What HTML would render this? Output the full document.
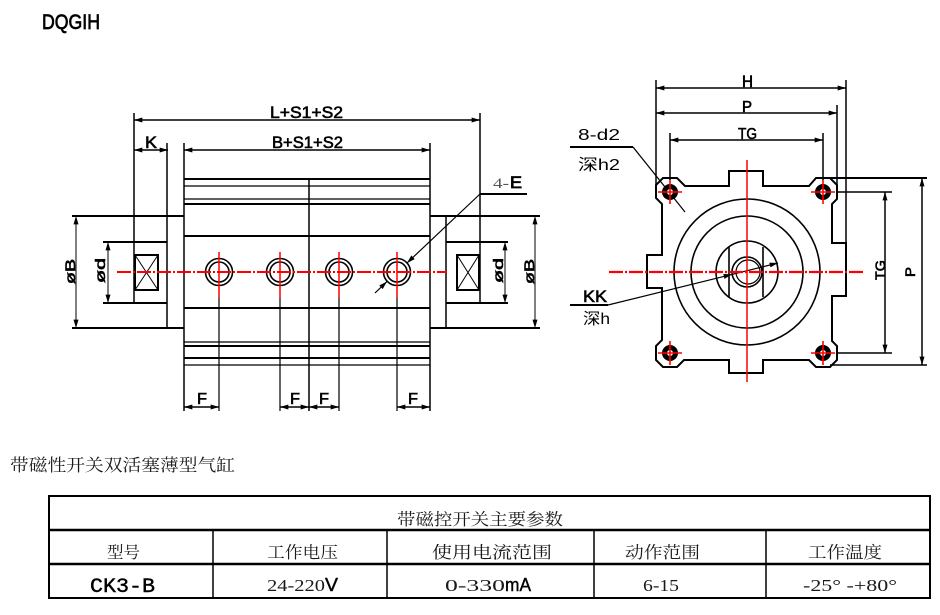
<!DOCTYPE html>
<html><head><meta charset="utf-8"><style>
html,body{margin:0;padding:0;background:#fff;}
svg{display:block;}
.cad{font-family:"Liberation Sans",sans-serif;fill:#000;}
.cjk{font-family:"Liberation Serif","Noto Serif CJK SC",serif;fill:#1a1a1a;}
</style></head><body>
<svg width="940" height="615" viewBox="0 0 940 615" xmlns="http://www.w3.org/2000/svg">
<defs>
<marker id="ar" viewBox="0 0 10 6" refX="10" refY="3" markerWidth="9" markerHeight="5" markerUnits="userSpaceOnUse" orient="auto-start-reverse">
<path d="M0,0 L10,3 L0,6 z" fill="#000"/>
</marker>
</defs>

<!-- Title -->
<text class="cad" x="42" y="29" font-size="21" textLength="58" lengthAdjust="spacingAndGlyphs" stroke="#000" stroke-width="0.7">DQGIH</text>

<!-- ========== LEFT VIEW ========== -->
<g stroke="#000" fill="none">
<line x1="134" y1="120" x2="480" y2="120" stroke-width="1.5" marker-start="url(#ar)" marker-end="url(#ar)"/>
<line x1="134" y1="113" x2="134" y2="303" stroke-width="1.5"/>
<line x1="480" y1="113" x2="480" y2="303" stroke-width="1.5"/>
<line x1="134" y1="150" x2="168" y2="150" stroke-width="1.5" marker-start="url(#ar)" marker-end="url(#ar)"/>
<line x1="167" y1="143" x2="167" y2="328" stroke-width="1.5"/>
<line x1="184" y1="150" x2="430" y2="150" stroke-width="1.5" marker-start="url(#ar)" marker-end="url(#ar)"/>
<line x1="184" y1="143" x2="184" y2="411" stroke-width="1.5"/>
<line x1="430" y1="143" x2="430" y2="411" stroke-width="1.5"/>
<line x1="309" y1="179" x2="309" y2="411" stroke-width="1.5"/>
<line x1="184" y1="179" x2="430" y2="179" stroke-width="2"/>
<line x1="184" y1="186" x2="430" y2="186" stroke-width="1.2"/>
<line x1="184" y1="199" x2="430" y2="199" stroke-width="1.2"/>
<line x1="184" y1="204" x2="430" y2="204" stroke-width="2"/>
<line x1="184" y1="236" x2="430" y2="236" stroke-width="2"/>
<line x1="184" y1="308" x2="430" y2="308" stroke-width="2"/>
<line x1="184" y1="342" x2="430" y2="342" stroke-width="1.2"/>
<line x1="184" y1="346" x2="430" y2="346" stroke-width="2"/>
<line x1="184" y1="358" x2="430" y2="358" stroke-width="2"/>
<line x1="184" y1="365" x2="430" y2="365" stroke-width="1.2"/>
<line x1="72" y1="216" x2="184" y2="216" stroke-width="2"/>
<line x1="72" y1="328" x2="184" y2="328" stroke-width="2"/>
<line x1="103" y1="242" x2="167" y2="242" stroke-width="2"/>
<line x1="103" y1="303" x2="167" y2="303" stroke-width="2"/>
<rect x="135" y="255" width="23" height="35" stroke-width="2"/>
<line x1="135" y1="255" x2="158" y2="290" stroke-width="1"/>
<line x1="158" y1="255" x2="135" y2="290" stroke-width="1"/>
<line x1="76" y1="216" x2="76" y2="328" stroke-width="1" marker-start="url(#ar)" marker-end="url(#ar)"/>
<line x1="108" y1="242" x2="108" y2="303" stroke-width="1" marker-start="url(#ar)" marker-end="url(#ar)"/>
<line x1="430" y1="216" x2="540" y2="216" stroke-width="2"/>
<line x1="430" y1="328" x2="540" y2="328" stroke-width="2"/>
<line x1="446" y1="216" x2="446" y2="328" stroke-width="1.5"/>
<line x1="446" y1="242" x2="508" y2="242" stroke-width="2"/>
<line x1="446" y1="303" x2="508" y2="303" stroke-width="2"/>
<rect x="457" y="255" width="22" height="35" stroke-width="2"/>
<line x1="457" y1="255" x2="479" y2="290" stroke-width="1"/>
<line x1="479" y1="255" x2="457" y2="290" stroke-width="1"/>
<line x1="505" y1="242" x2="505" y2="303" stroke-width="1" marker-start="url(#ar)" marker-end="url(#ar)"/>
<line x1="535" y1="216" x2="535" y2="328" stroke-width="1" marker-start="url(#ar)" marker-end="url(#ar)"/>
<circle cx="219" cy="272" r="13.5" stroke-width="1.6"/><circle cx="219" cy="272" r="10" stroke-width="1.6"/>
<circle cx="280" cy="272" r="13.5" stroke-width="1.6"/><circle cx="280" cy="272" r="10" stroke-width="1.6"/>
<circle cx="339" cy="272" r="13.5" stroke-width="1.6"/><circle cx="339" cy="272" r="10" stroke-width="1.6"/>
<circle cx="397" cy="272" r="13.5" stroke-width="1.6"/><circle cx="397" cy="272" r="10" stroke-width="1.6"/>
<line x1="219" y1="298" x2="219" y2="411" stroke-width="1.2"/>
<line x1="280" y1="298" x2="280" y2="411" stroke-width="1.2"/>
<line x1="339" y1="298" x2="339" y2="411" stroke-width="1.2"/>
<line x1="397" y1="298" x2="397" y2="411" stroke-width="1.2"/>
<line x1="184" y1="407" x2="219" y2="407" stroke-width="1.5" marker-start="url(#ar)" marker-end="url(#ar)"/>
<line x1="280" y1="407" x2="309" y2="407" stroke-width="1.5" marker-start="url(#ar)" marker-end="url(#ar)"/>
<line x1="309" y1="407" x2="339" y2="407" stroke-width="1.5" marker-start="url(#ar)" marker-end="url(#ar)"/>
<line x1="397" y1="407" x2="430" y2="407" stroke-width="1.5" marker-start="url(#ar)" marker-end="url(#ar)"/>
<line x1="480" y1="194" x2="527" y2="194" stroke-width="2"/>
<line x1="480" y1="194" x2="407" y2="263" stroke-width="1.2" marker-end="url(#ar)"/>
<line x1="375" y1="293" x2="387" y2="281.5" stroke-width="1.2" marker-end="url(#ar)"/>
</g>
<g stroke="#f00" fill="none">
<line x1="117" y1="272" x2="447" y2="272" stroke-width="2" stroke-dasharray="14 2 2 2"/>
<line x1="219" y1="252" x2="219" y2="298" stroke-width="1.5"/>
<line x1="280" y1="252" x2="280" y2="298" stroke-width="1.5"/>
<line x1="339" y1="252" x2="339" y2="298" stroke-width="1.5"/>
<line x1="397" y1="252" x2="397" y2="298" stroke-width="1.5"/>
</g>
<g class="cad" stroke="#000" stroke-width="0.6">
<text x="270" y="118" font-size="16.5" textLength="73" lengthAdjust="spacingAndGlyphs">L+S1+S2</text>
<text x="145" y="148" font-size="16.5" textLength="12" lengthAdjust="spacingAndGlyphs">K</text>
<text x="272" y="148" font-size="16.5" textLength="71" lengthAdjust="spacingAndGlyphs">B+S1+S2</text>
<text x="197" y="404" font-size="16" textLength="10" lengthAdjust="spacingAndGlyphs">F</text>
<text x="290" y="404" font-size="16" textLength="10" lengthAdjust="spacingAndGlyphs">F</text>
<text x="319" y="404" font-size="16" textLength="10" lengthAdjust="spacingAndGlyphs">F</text>
<text x="408" y="404" font-size="16" textLength="10" lengthAdjust="spacingAndGlyphs">F</text>
<text transform="translate(75,284) rotate(-90)" font-size="14" textLength="25" lengthAdjust="spacingAndGlyphs">øB</text>
<text transform="translate(105,283) rotate(-90)" font-size="14" textLength="25" lengthAdjust="spacingAndGlyphs">ød</text>
<text transform="translate(503,283) rotate(-90)" font-size="14" textLength="25" lengthAdjust="spacingAndGlyphs">ød</text>
<text transform="translate(534,284) rotate(-90)" font-size="14" textLength="25" lengthAdjust="spacingAndGlyphs">øB</text>
</g>
<text x="493" y="188" font-family="Liberation Serif,serif" font-size="15" fill="#555" textLength="16" lengthAdjust="spacingAndGlyphs">4-</text>
<text x="510" y="188" font-family="Liberation Sans,sans-serif" font-size="16.5" fill="#000" stroke="#000" stroke-width="0.8" textLength="12" lengthAdjust="spacingAndGlyphs">E</text>

<!-- ========== RIGHT VIEW ========== -->
<g stroke="#000" fill="none">
<line x1="656" y1="88" x2="846" y2="88" stroke-width="1.5" marker-start="url(#ar)" marker-end="url(#ar)"/>
<line x1="656" y1="80" x2="656" y2="186" stroke-width="1.5"/>
<line x1="846" y1="80" x2="846" y2="243" stroke-width="1.5"/>
<line x1="656" y1="113" x2="837" y2="113" stroke-width="1.5" marker-start="url(#ar)" marker-end="url(#ar)"/>
<line x1="837" y1="105" x2="837" y2="185" stroke-width="1.5"/>
<line x1="670" y1="140" x2="823" y2="140" stroke-width="1.5" marker-start="url(#ar)" marker-end="url(#ar)"/>
<line x1="670" y1="133" x2="670" y2="180" stroke-width="1.5"/>
<line x1="823" y1="133" x2="823" y2="180" stroke-width="1.5"/>
<line x1="885" y1="192" x2="885" y2="353" stroke-width="1.5" marker-start="url(#ar)" marker-end="url(#ar)"/>
<line x1="837" y1="192" x2="892" y2="192" stroke-width="1.5"/>
<line x1="837" y1="353" x2="892" y2="353" stroke-width="1.5"/>
<line x1="922" y1="178" x2="922" y2="365" stroke-width="1.5" marker-start="url(#ar)" marker-end="url(#ar)"/>
<line x1="830" y1="178" x2="927" y2="178" stroke-width="2"/>
<line x1="830" y1="365" x2="927" y2="365" stroke-width="1.5"/>
<path d="M663,178 L677,178 L685,186 L729,186 L729,171 L763,171 L763,186 L809,186 L816,178 L830,178 L837,185 L837,199 L832,204 L832,243 L846,243 L846,296 L832,296 L832,341 L837,346 L837,360 L830,367 L816,367 L809,360 L763,360 L763,373 L729,373 L729,360 L684,360 L677,367 L663,367 L656,360 L656,346 L662,340 L662,288 L647,288 L647,255 L662,255 L662,204 L656,198 L656,185 Z" stroke-width="2"/>
<circle cx="747" cy="272" r="73" stroke-width="1.6"/>
<circle cx="747" cy="272" r="56" stroke-width="1.6"/>
<circle cx="747" cy="272" r="31" stroke-width="1.6"/>
<circle cx="747" cy="272" r="15" stroke-width="1.6"/>
<circle cx="748" cy="272" r="12" stroke-width="1.2"/>
<line x1="729" y1="247" x2="729" y2="297" stroke-width="1.6"/>
<line x1="763" y1="247" x2="763" y2="297" stroke-width="1.6"/>
<line x1="570" y1="147" x2="633" y2="147" stroke-width="2"/>
<line x1="633" y1="147" x2="685" y2="212" stroke-width="1.2"/>
<line x1="570" y1="305" x2="608" y2="305" stroke-width="2"/>
<line x1="608" y1="305" x2="732" y2="274.4" stroke-width="1.2" marker-end="url(#ar)"/>
<line x1="732" y1="274.4" x2="778" y2="263" stroke-width="1.2" marker-end="url(#ar)"/>
</g>
<g>
<circle cx="670" cy="192" r="8" fill="#000"/><circle cx="670" cy="192" r="3" fill="#fff"/>
<circle cx="823" cy="192" r="8" fill="#000"/><circle cx="823" cy="192" r="3" fill="#fff"/>
<circle cx="670" cy="353" r="8" fill="#000"/><circle cx="670" cy="353" r="3" fill="#fff"/>
<circle cx="823" cy="353" r="8" fill="#000"/><circle cx="823" cy="353" r="3" fill="#fff"/>
</g>
<g stroke="#f00" fill="none" stroke-width="1.6">
<line x1="658" y1="192" x2="682" y2="192"/><line x1="670" y1="180" x2="670" y2="204"/>
<line x1="811" y1="192" x2="835" y2="192"/><line x1="823" y1="180" x2="823" y2="204"/>
<line x1="658" y1="353" x2="682" y2="353"/><line x1="670" y1="341" x2="670" y2="365"/>
<line x1="811" y1="353" x2="835" y2="353"/><line x1="823" y1="341" x2="823" y2="365"/>
<line x1="609" y1="272" x2="863" y2="272" stroke-width="2.2" stroke-dasharray="14 2 2 2"/>
<line x1="747" y1="160" x2="747" y2="382" stroke-width="1.5"/>
</g>
<g class="cad" stroke="#000" stroke-width="0.6">
<text x="742" y="87" font-size="16.5" textLength="11" lengthAdjust="spacingAndGlyphs">H</text>
<text x="742" y="112" font-size="16" textLength="10" lengthAdjust="spacingAndGlyphs">P</text>
<text x="738" y="139" font-size="16" textLength="19" lengthAdjust="spacingAndGlyphs">TG</text>
<text transform="translate(885,280) rotate(-90)" font-size="14" textLength="20" lengthAdjust="spacingAndGlyphs">TG</text>
<text transform="translate(915,277) rotate(-90)" font-size="14" textLength="10" lengthAdjust="spacingAndGlyphs">P</text>
<text x="583" y="302" font-size="17" textLength="24" lengthAdjust="spacingAndGlyphs">KK</text>
</g>
<text x="578" y="140" font-family="Liberation Sans,sans-serif" font-size="16" textLength="42" lengthAdjust="spacingAndGlyphs" fill="#000">8-d2</text>
<text x="578" y="170" font-family="Liberation Sans,Noto Sans CJK SC,sans-serif" font-size="16" textLength="42" lengthAdjust="spacingAndGlyphs" fill="#000">深h2</text>
<text x="583" y="324" font-family="Liberation Sans,Noto Sans CJK SC,sans-serif" font-size="16" textLength="27" lengthAdjust="spacingAndGlyphs" fill="#000">深h</text>

<!-- ========== CAPTION & TABLE ========== -->
<text class="cjk" x="10" y="471" font-size="17" textLength="225" lengthAdjust="spacingAndGlyphs">带磁性开关双活塞薄型气缸</text>

<g stroke="#000" fill="none">
<rect x="49" y="496" width="881" height="102" stroke-width="2"/>
<line x1="49" y1="530" x2="930" y2="530" stroke-width="2.5"/>
<line x1="49" y1="564" x2="930" y2="564" stroke-width="2.5"/>
<line x1="213" y1="530" x2="213" y2="598" stroke-width="1.5"/>
<line x1="387" y1="530" x2="387" y2="598" stroke-width="1.5"/>
<line x1="594" y1="530" x2="594" y2="598" stroke-width="1.5"/>
<line x1="766" y1="530" x2="766" y2="598" stroke-width="1.5"/>
</g>
<g class="cjk" font-size="16.5">
<text x="397" y="525" textLength="166" lengthAdjust="spacingAndGlyphs">带磁控开关主要参数</text>
<text x="107" y="558" textLength="33" lengthAdjust="spacingAndGlyphs">型号</text>
<text x="267" y="558" textLength="71" lengthAdjust="spacingAndGlyphs">工作电压</text>
<text x="432" y="558" textLength="120" lengthAdjust="spacingAndGlyphs">使用电流范围</text>
<text x="625" y="558" textLength="75" lengthAdjust="spacingAndGlyphs">动作范围</text>
<text x="808" y="558" textLength="74" lengthAdjust="spacingAndGlyphs">工作温度</text>
<text x="267" y="591" textLength="58" lengthAdjust="spacingAndGlyphs">24-220</text>
<text x="445" y="591" textLength="60" lengthAdjust="spacingAndGlyphs">0-330</text>
<text x="643" y="591" textLength="36" lengthAdjust="spacingAndGlyphs">6-15</text>
<text x="803" y="591" textLength="94" lengthAdjust="spacingAndGlyphs">-25° -+80°</text>
</g>
<text x="325" y="591" font-family="Liberation Sans,sans-serif" font-size="18" fill="#000" stroke="#000" stroke-width="0.4" textLength="13" lengthAdjust="spacingAndGlyphs">V</text>
<text x="505" y="591" font-family="Liberation Sans,sans-serif" font-size="18" fill="#000" stroke="#000" stroke-width="0.4" textLength="26" lengthAdjust="spacingAndGlyphs">mA</text>
<text x="90" y="592" font-family="Liberation Mono,monospace" font-size="20" textLength="65" lengthAdjust="spacingAndGlyphs" fill="#000" stroke="#000" stroke-width="0.4">CK3-B</text>
</svg>
</body></html>
